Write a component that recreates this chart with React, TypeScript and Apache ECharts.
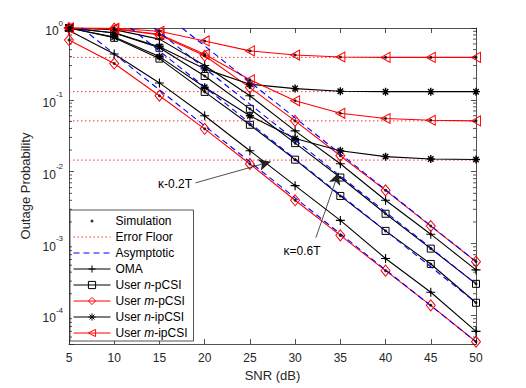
import React, { useEffect, useRef } from "react";
import * as echarts from "echarts";

const snr = [5, 10, 15, 20, 25, 30, 35, 40, 45, 50];

// upper group (kappa = 0.6T) and lower group (kappa = 0.2T)
const omaA = [1.0, 0.95, 0.7, 0.3, 0.114, 0.037, 0.0129, 0.004, 0.00135, 0.00043];
const omaB = [0.92, 0.435, 0.172, 0.06, 0.0196, 0.0064, 0.0021, 0.00062, 0.00021, 0.00006];
const nPcsiA = [1.0, 0.85, 0.53, 0.215, 0.075, 0.025, 0.0083, 0.0026, 0.00085, 0.000275];
const nPcsiB = [1.0, 0.73, 0.375, 0.129, 0.045, 0.0147, 0.0046, 0.0015, 0.00052, 0.00015];
const mPcsiA = [1.0, 0.98, 0.8, 0.41, 0.148, 0.051, 0.0167, 0.0055, 0.00175, 0.00056];
const mPcsiB = [0.68, 0.32, 0.114, 0.0395, 0.0128, 0.004, 0.0013, 0.00042, 0.000138, 0.000043];
const nIpcsiA = [1.0, 0.86, 0.55, 0.27, 0.165, 0.1435, 0.132, 0.13, 0.13, 0.13];
const nIpcsiB = [1.0, 0.75, 0.4, 0.15, 0.06, 0.029, 0.0196, 0.0162, 0.015, 0.0148];
const mIpcsiA = [1.0, 0.99, 0.9, 0.66, 0.48, 0.42, 0.395, 0.39, 0.39, 0.39];
const mIpcsiB = [1.0, 0.97, 0.82, 0.43, 0.19, 0.097, 0.065, 0.055, 0.052, 0.051];

const errorFloors = [0.39, 0.13, 0.051, 0.0145];

// asymptotic lines: [start SNR, start value] -> [end SNR, end value]
const asymMA = [[17.5, 1], [50, 0.00056]];
const asymMB = [[6.4, 1], [50, 0.000043]];
const asymNA = [[14.4, 1], [50, 0.000275]];
const asymNB = [[11.8, 1], [50, 0.00015]];

const arrowLow = [[19.0, 0.0070], [27.3, 0.0138]];
const arrowHigh = [[32.3, 0.00121], [34.8, 0.0097]];

const legendNames = [
  "Simulation",
  "Error Floor",
  "Asymptotic",
  "OMA",
  "User n-pCSI",
  "User m-pCSI",
  "User n-ipCSI",
  "User m-ipCSI",
];

const FONT = '"Liberation Sans", Arial, Helvetica, sans-serif';
const AX = "#262626";
const YMIN = 4e-5;
const YMAX = 1;

const PLUS = "path://M5,0L5,10M0,5L10,5";
const STAR = "path://M5,0L5,10M0,5L10,5M1.6,1.6L8.4,8.4M1.6,8.4L8.4,1.6";
const TRI_LEFT = "path://M0,5L10,0L10,10Z";
const DOT_ICON = "path://M0,0M37,9M17,4.5a1.5,1.5 0 1,0 3,0a1.5,1.5 0 1,0 -3,0";

type Style = { color: string; symbol: string; size: number | number[]; filled: boolean; bw: number };
const styles: Record<string, Style> = {
  OMA: { color: "#000000", symbol: PLUS, size: 9, filled: true, bw: 1.1 },
  "User n-pCSI": { color: "#000000", symbol: "rect", size: 7, filled: false, bw: 1 },
  "User m-pCSI": { color: "#ff0000", symbol: "diamond", size: [9, 11], filled: false, bw: 1 },
  "User n-ipCSI": { color: "#000000", symbol: STAR, size: 8, filled: true, bw: 1.4 },
  "User m-ipCSI": { color: "#ff0000", symbol: TRI_LEFT, size: [9, 10], filled: false, bw: 1 },
};

const curves: { name: string; values: number[] }[] = [
  { name: "OMA", values: omaA },
  { name: "OMA", values: omaB },
  { name: "User n-pCSI", values: nPcsiA },
  { name: "User n-pCSI", values: nPcsiB },
  { name: "User m-pCSI", values: mPcsiA },
  { name: "User m-pCSI", values: mPcsiB },
  { name: "User n-ipCSI", values: nIpcsiA },
  { name: "User n-ipCSI", values: nIpcsiB },
  { name: "User m-ipCSI", values: mIpcsiA },
  { name: "User m-ipCSI", values: mIpcsiB },
];

const minorTicks: number[] = [];
for (let e = -5; e <= -1; e++) {
  for (let m = 2; m <= 9; m++) {
    const v = m * Math.pow(10, e);
    if (v > YMIN * 1.05 && v < YMAX) minorTicks.push(v);
  }
}

function buildOption(): any {
  const axisLine = { show: true, onZero: false, lineStyle: { color: AX, width: 0.8 } };
  const axisTick = { show: true, inside: true, length: 5, lineStyle: { color: AX, width: 0.8 } };

  const yLabelFormatter = (v: number) => {
    const l = Math.log10(v);
    const e = Math.round(l);
    if (Math.abs(l - e) > 1e-6) return "";
    return `{b|10}{sup|${e}}`;
  };
  const yRich = {
    b: { fontSize: 12, lineHeight: 18, verticalAlign: "bottom", color: AX, fontFamily: FONT },
    sup: { fontSize: 8, lineHeight: 10, verticalAlign: "top", color: AX, fontFamily: FONT },
  };

  const series: any[] = [];

  errorFloors.forEach((v) => {
    series.push({
      name: "Error Floor",
      type: "line",
      data: [[snr[0], v], [snr[snr.length - 1], v]],
      symbol: "none",
      lineStyle: { color: "#ff3333", width: 1, type: [1.5, 2.5] },
      itemStyle: { color: "#ff3333" },
      silent: true,
      z: 1,
    });
  });

  curves.forEach((c) => {
    const s = styles[c.name];
    series.push({
      name: c.name,
      type: "line",
      data: c.values.map((v, i) => [snr[i], v]),
      symbol: s.symbol,
      symbolSize: s.size,
      showAllSymbol: true,
      lineStyle: { color: s.color, width: 1.1 },
      itemStyle: {
        color: s.filled ? s.color : "rgba(255,255,255,0)",
        borderColor: s.color,
        borderWidth: s.bw,
      },
      silent: true,
      z: 2,
    });
  });

  [asymMA, asymMB, asymNA, asymNB].forEach((a) => {
    series.push({
      name: "Asymptotic",
      type: "line",
      data: a,
      symbol: "none",
      lineStyle: { color: "#0000ff", width: 1.1, type: [6, 4] },
      itemStyle: { color: "#0000ff" },
      silent: true,
      z: 3,
    });
  });

  series.push({
    name: "Simulation",
    type: "scatter",
    data: curves.flatMap((c) => c.values.map((v, i) => [snr[i], v])),
    symbol: "circle",
    symbolSize: 3,
    itemStyle: { color: "#000000" },
    silent: true,
    z: 4,
    markLine: {
      silent: true,
      symbol: ["none", "arrow"],
      symbolSize: [9, 12],
      label: { show: false },
      lineStyle: { color: "#222222", width: 0.8, type: "solid" },
      emphasis: { disabled: true },
      data: [
        [{ coord: arrowLow[0] }, { coord: arrowLow[1] }],
        [{ coord: arrowHigh[0] }, { coord: arrowHigh[1] }],
      ],
    },
  });

  series.push({
    name: "__minor",
    type: "custom",
    silent: true,
    clip: false,
    z: 5,
    data: minorTicks.map((v) => [snr[0], v]),
    renderItem: (params: any, api: any) => {
      const v = api.value(1);
      const l = api.coord([snr[0], v]);
      const r = api.coord([snr[snr.length - 1], v]);
      return {
        type: "group",
        children: [
          { type: "line", shape: { x1: l[0], y1: l[1], x2: l[0] + 3, y2: l[1] }, style: { stroke: AX, lineWidth: 0.8 } },
          { type: "line", shape: { x1: r[0] - 3, y1: r[1], x2: r[0], y2: r[1] }, style: { stroke: AX, lineWidth: 0.8 } },
        ],
      };
    },
  });

  return {
    animation: false,
    backgroundColor: "#ffffff",
    textStyle: { fontFamily: FONT },
    grid: { left: 69, right: 50, top: 28, bottom: 44, containLabel: false },
    xAxis: [
      {
        type: "value",
        min: 5,
        max: 50,
        interval: 5,
        position: "bottom",
        name: "SNR (dB)",
        nameLocation: "middle",
        nameGap: 25,
        nameTextStyle: { fontSize: 13, color: AX, fontFamily: FONT },
        axisLine,
        axisTick,
        axisLabel: { fontSize: 12, color: AX, margin: 8, fontFamily: FONT },
        splitLine: { show: false },
      },
      {
        type: "value",
        min: 5,
        max: 50,
        interval: 5,
        position: "top",
        axisLine,
        axisTick,
        axisLabel: { show: false },
        splitLine: { show: false },
      },
    ],
    yAxis: [
      {
        type: "log",
        logBase: 10,
        min: YMIN,
        max: YMAX,
        position: "left",
        name: "Outage Probability",
        nameLocation: "middle",
        nameGap: 36,
        nameTextStyle: { fontSize: 13, color: AX, fontFamily: FONT },
        axisLine,
        axisTick,
        axisLabel: { formatter: yLabelFormatter, rich: yRich, margin: 6 },
        splitLine: { show: false },
      },
      {
        type: "log",
        logBase: 10,
        min: YMIN,
        max: YMAX,
        position: "right",
        axisLine,
        axisTick,
        axisLabel: { show: false },
        splitLine: { show: false },
      },
    ],
    legend: {
      orient: "vertical",
      left: 70,
      top: 210,
      itemWidth: 37,
      itemHeight: 9,
      itemGap: 4,
      padding: [5, 6, 2, 3],
      backgroundColor: "#ffffff",
      borderColor: AX,
      borderWidth: 0.8,
      borderRadius: 0,
      selectedMode: false,
      lineStyle: { width: 1 },
      itemStyle: { borderWidth: 1 },
      textStyle: {
        fontSize: 12,
        lineHeight: 12,
        color: "#000000",
        fontFamily: FONT,
        rich: { i: { fontStyle: "italic", fontSize: 12, lineHeight: 12, fontFamily: FONT, color: "#000000" } },
      },
      formatter: (name: string) => name.replace(/User (n|m)-/, "User {i|$1}-"),
      data: legendNames.map((n) => {
        if (n === "Simulation") return { name: n, icon: DOT_ICON };
        if (n === "Error Floor" || n === "Asymptotic") return { name: n, itemStyle: { opacity: 0 } };
        return { name: n };
      }),
    },
    graphic: [
      {
        type: "text",
        x: 192,
        y: 184,
        style: { text: "κ-0.2T", fill: "#000000", font: `12px ${FONT}`, textAlign: "right", textVerticalAlign: "middle" },
      },
      {
        type: "text",
        x: 302,
        y: 251,
        style: { text: "κ=0.6T", fill: "#000000", font: `12px ${FONT}`, textAlign: "center", textVerticalAlign: "middle" },
      },
    ],
    series,
  };
}

export default function App() {
  const ref = useRef<HTMLDivElement>(null);
  useEffect(() => {
    if (!ref.current) return;
    const chart = echarts.init(ref.current, undefined, { renderer: "svg" });
    chart.setOption(buildOption());
    return () => chart.dispose();
  }, []);
  return (
    <div
      ref={ref}
      style={{ position: "fixed", left: 0, top: 0, width: 526, height: 388, background: "#fff" }}
    />
  );
}
